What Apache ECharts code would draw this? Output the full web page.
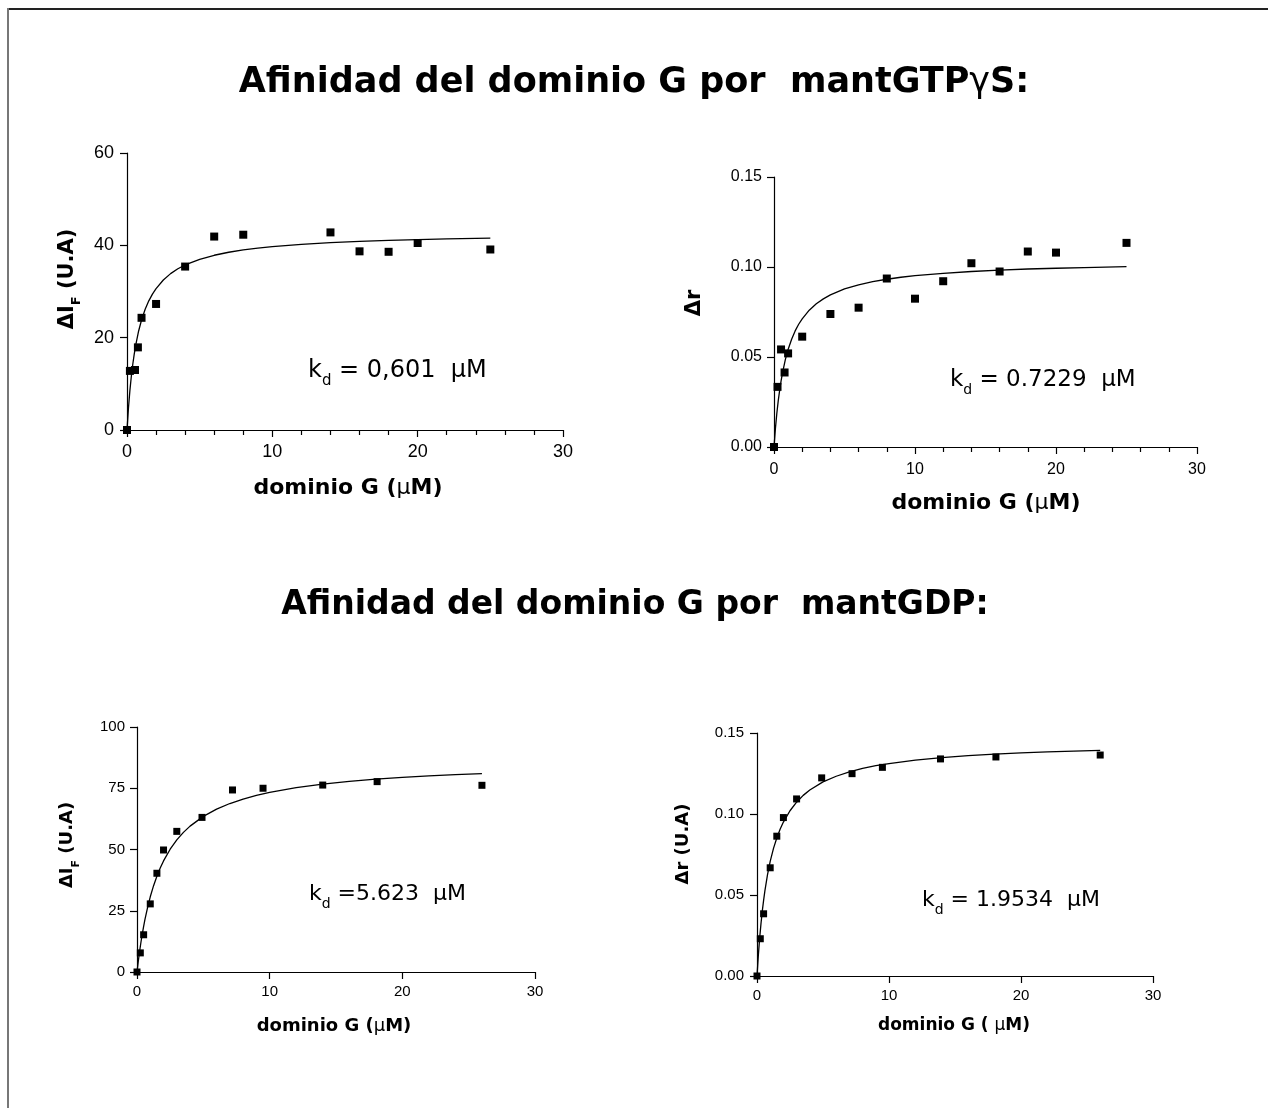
<!DOCTYPE html>
<html><head><meta charset="utf-8">
<script src="https://cdn.jsdelivr.net/npm/echarts@6/dist/echarts.min.js"></script>
<style>html,body{margin:0;padding:0;background:#fff}#c{width:1268px;height:1108px}</style>
</head><body><div id="c"></div><script>
// ---- data ----
const xTicks = [0, 10, 20, 30];
// Panel 1: ΔIF vs dominio G (mantGTPγS)
const p1X = [0, 0.2, 0.55, 0.75, 1, 2, 4, 6, 8, 14, 16, 18, 20, 25];
const p1Y = [0, 12.8, 13.0, 17.9, 24.3, 27.3, 35.4, 41.9, 42.3, 42.8, 38.7, 38.6, 40.5, 39.1];
const p1FitX = [0, 0.1, 0.2, 0.3, 0.4, 0.5, 0.6, 0.8, 1, 1.25, 1.5, 1.75, 2, 2.5, 3, 3.5, 4, 5, 6, 7, 8, 9, 10, 12, 14, 16, 18, 20, 22, 25];
const p1FitY = [0, 4.77, 8.58, 11.70, 14.30, 16.50, 18.39, 21.45, 23.83, 26.16, 27.98, 29.44, 30.64, 32.50, 33.87, 34.92, 35.75, 36.98, 37.85, 38.50, 39.00, 39.40, 39.72, 40.22, 40.58, 40.86, 41.07, 41.25, 41.39, 41.57];
const p1YTicks = [0, 20, 40, 60];
// Panel 2: Δr vs dominio G (mantGTPγS)
const p2X = [0, 0.25, 0.5, 0.75, 1, 2, 4, 6, 8, 10, 12, 14, 16, 18, 20, 25];
const p2Y = [0, 0.0334, 0.0542, 0.0414, 0.052, 0.0613, 0.0739, 0.0774, 0.0936, 0.0824, 0.0921, 0.1021, 0.0975, 0.1086, 0.108, 0.1134];
const p2FitX = [0, 0.1, 0.2, 0.3, 0.4, 0.5, 0.6, 0.8, 1, 1.25, 1.5, 1.75, 2, 2.5, 3, 3.5, 4, 5, 6, 7, 8, 9, 10, 12, 14, 16, 18, 20, 22, 25];
const p2FitY = [0, 0.0102, 0.0186, 0.0256, 0.0315, 0.0366, 0.0411, 0.0484, 0.0542, 0.0599, 0.0645, 0.0682, 0.0712, 0.0760, 0.0796, 0.0823, 0.0845, 0.0878, 0.0901, 0.0919, 0.0932, 0.0943, 0.0952, 0.0965, 0.0975, 0.0983, 0.0989, 0.0993, 0.0997, 0.1002];
const p2YTicks = [0, 0.05, 0.10, 0.15];
// Panel 3: ΔIF vs dominio G (mantGDP)
const p3X = [0, 0.25, 0.5, 1, 1.5, 2, 3, 4.9, 7.2, 9.5, 14, 18.1, 26];
const p3Y = [0, 7.8, 15.2, 27.8, 40.3, 49.8, 57.4, 63.1, 74.3, 75.0, 76.3, 77.7, 76.2];
const p3FitX = [0, 0.1, 0.2, 0.3, 0.4, 0.5, 0.6, 0.8, 1, 1.25, 1.5, 1.75, 2, 2.5, 3, 3.5, 4, 5, 6, 7, 8, 9, 10, 12, 14, 16, 18, 20, 22, 24, 26];
const p3FitY = [0, 4.50, 8.56, 12.24, 15.59, 18.65, 21.45, 26.42, 30.69, 35.24, 39.11, 42.44, 45.33, 50.12, 53.91, 56.99, 59.54, 63.52, 66.48, 68.77, 70.60, 72.08, 73.32, 75.26, 76.70, 77.82, 78.72, 79.45, 80.06, 80.57, 81.01];
const p3YTicks = [0, 25, 50, 75, 100];
// Panel 4: Δr vs dominio G (mantGDP)
const p4X = [0, 0.25, 0.5, 1, 1.5, 2, 3, 4.9, 7.2, 9.5, 13.9, 18.1, 26];
const p4Y = [0, 0.023, 0.0384, 0.0668, 0.0863, 0.0978, 0.1093, 0.1223, 0.1249, 0.1288, 0.134, 0.1352, 0.1364];
const p4FitX = [0, 0.1, 0.2, 0.3, 0.4, 0.5, 0.6, 0.8, 1, 1.25, 1.5, 1.75, 2, 2.5, 3, 3.5, 4, 5, 6, 7, 8, 9, 10, 12, 14, 16, 18, 20, 22, 24, 26];
const p4FitY = [0, 0.0126, 0.0232, 0.0322, 0.0400, 0.0467, 0.0527, 0.0627, 0.0707, 0.0788, 0.0852, 0.0906, 0.0950, 0.1020, 0.1073, 0.1115, 0.1148, 0.1198, 0.1233, 0.1260, 0.1281, 0.1298, 0.1311, 0.1332, 0.1348, 0.1360, 0.1369, 0.1377, 0.1383, 0.1388, 0.1393];
const p4YTicks = [0, 0.05, 0.10, 0.15];

const kdTexts = ['0,601', '0.7229', '5.623', '1.9534'];
const titles = ['Afinidad del dominio G por  mantGTP', 'Afinidad del dominio G por  mantGDP:'];

// ---- layout ----
const FF = '"DejaVu Sans", sans-serif';
const TF = '"Liberation Sans", Arial, sans-serif';
const panels = [
  {x: p1X, y: p1Y, fx: p1FitX, fy: p1FitY, yt: p1YTicks, grid: {left: 127, top: 153, width: 436, height: 277}, fs: 18, ym: 13, xm: 13, minor: true, dec: 0, sym: 8},
  {x: p2X, y: p2Y, fx: p2FitX, fy: p2FitY, yt: p2YTicks, grid: {left: 774, top: 177, width: 423, height: 270}, fs: 16, ym: 12, xm: 15, minor: true, dec: 2, sym: 8},
  {x: p3X, y: p3Y, fx: p3FitX, fy: p3FitY, yt: p3YTicks, grid: {left: 137, top: 727, width: 398, height: 245}, fs: 15, ym: 12, xm: 12, minor: false, dec: 0, sym: 7},
  {x: p4X, y: p4Y, fx: p4FitX, fy: p4FitY, yt: p4YTicks, grid: {left: 757, top: 733, width: 396, height: 243}, fs: 15, ym: 13, xm: 12, minor: false, dec: 2, sym: 7}
];

const grid = [], xAxis = [], yAxis = [], series = [];
panels.forEach((p, i) => {
  grid.push(Object.assign({containLabel: false, outerBoundsMode: 'none'}, p.grid));
  const step = p.yt[1] - p.yt[0];
  xAxis.push({
    type: 'value', gridIndex: i, min: xTicks[0], max: xTicks[xTicks.length - 1], interval: xTicks[1] - xTicks[0],
    axisLine: {show: true, onZero: false, lineStyle: {color: '#000', width: 1.2}},
    axisTick: {show: true, length: 7, lineStyle: {color: '#000', width: 1.2}},
    minorTick: {show: p.minor, splitNumber: 5, length: 5, lineStyle: {color: '#000', width: 1.2}},
    splitLine: {show: false}, minorSplitLine: {show: false},
    axisLabel: {color: '#000', fontSize: p.fs, fontFamily: TF, margin: p.xm, showMinLabel: true, showMaxLabel: true}
  });
  yAxis.push({
    type: 'value', gridIndex: i, min: p.yt[0], max: p.yt[p.yt.length - 1], interval: step,
    axisLine: {show: true, onZero: false, lineStyle: {color: '#000', width: 1.2}},
    axisTick: {show: true, length: 7, lineStyle: {color: '#000', width: 1.2}},
    splitLine: {show: false},
    axisLabel: {color: '#000', fontSize: p.fs, fontFamily: TF, margin: p.ym, showMinLabel: true, showMaxLabel: true,
      formatter: v => v.toFixed(p.dec)}
  });
  series.push({
    type: 'line', xAxisIndex: i, yAxisIndex: i, data: p.fx.map((v, k) => [v, p.fy[k]]),
    showSymbol: false, smooth: false, lineStyle: {color: '#000', width: 1.3}, silent: true, z: 2
  });
  series.push({
    type: 'scatter', xAxisIndex: i, yAxisIndex: i, data: p.x.map((v, k) => [v, p.y[k]]),
    symbol: 'rect', symbolSize: p.sym, itemStyle: {color: '#000', opacity: 1}, z: 3
  });
});

function txt(x, y, text, rich, rot) {
  return {type: 'text', x: x, y: y, rotation: rot || 0,
    style: {text: text, rich: rich, fill: '#000', align: 'center', verticalAlign: 'middle'}};
}
function txtL(x, y, text, rich) {
  return {type: 'text', x: x, y: y,
    style: {text: text, rich: rich, fill: '#000', align: 'left', verticalAlign: 'middle'}};
}
function titleRich(fs) {
  return {a: {fontSize: fs, fontWeight: 'bold', fontFamily: FF, color: '#000'},
          g: {fontSize: fs, fontWeight: 'normal', fontFamily: FF, color: '#000'}};
}
function xnRich(fs) {
  return {a: {fontSize: fs, fontWeight: 'bold', fontFamily: FF, color: '#000'},
          m: {fontSize: fs, fontWeight: 'normal', fontFamily: FF, color: '#000'}};
}
function subRich(fs, bold) {
  const w = bold ? 'bold' : 'normal';
  return {a: {fontSize: fs, fontWeight: w, fontFamily: FF, color: '#000', lineHeight: Math.round(fs * 1.25), verticalAlign: 'top'},
          s: {fontSize: Math.round(fs * 0.62), fontWeight: w, fontFamily: FF, color: '#000', lineHeight: Math.round(fs * 0.62), verticalAlign: 'bottom'},
          m: {fontSize: fs, fontWeight: 'normal', fontFamily: FF, color: '#000', lineHeight: Math.round(fs * 1.25), verticalAlign: 'top'}};
}

const graphic = [
  {type: 'line', shape: {x1: 7, y1: 9, x2: 1268, y2: 9}, style: {stroke: '#222', lineWidth: 2}},
  {type: 'line', shape: {x1: 8, y1: 8, x2: 8, y2: 1108}, style: {stroke: '#777', lineWidth: 2}},
  txt(634, 83, '{a|' + titles[0] + '}{g|γ}{a|S:}', titleRich(35)),
  txt(635, 605, '{a|' + titles[1] + '}', titleRich(33)),
  // y names
  txt(70, 279, '{a|ΔI}{s|F}{a| (U.A)}', subRich(21, true), Math.PI / 2),
  txt(697, 303, '{a|Δr}', subRich(21, true), Math.PI / 2),
  txt(70, 845, '{a|ΔI}{s|F}{a| (U.A)}', subRich(18, true), Math.PI / 2),
  txt(686, 844, '{a|Δr (U.A)}', subRich(18, true), Math.PI / 2),
  // x names
  txt(348, 488, '{a|dominio G (}{m|μ}{a|M)}', xnRich(22)),
  txt(986, 503, '{a|dominio G (}{m|μ}{a|M)}', xnRich(22)),
  txt(334, 1026, '{a|dominio G (}{m|μ}{a|M)}', xnRich(18)),
  txt(954, 1026, '{a|dominio G ( }{m|μ}{a|M)}', xnRich(17)),
  // kd annotations
  txtL(308, 374, '{a|k}{s|d}{a| = ' + kdTexts[0] + '  }{m|μ}{a|M}', subRich(24, false)),
  txtL(950, 383, '{a|k}{s|d}{a| = ' + kdTexts[1] + '  }{m|μ}{a|M}', subRich(23, false)),
  txtL(309, 897, '{a|k}{s|d}{a| =' + kdTexts[2] + '  }{m|μ}{a|M}', subRich(22, false)),
  txtL(922, 903, '{a|k}{s|d}{a| = ' + kdTexts[3] + '  }{m|μ}{a|M}', subRich(22, false))
];

const chart = echarts.init(document.getElementById('c'), null, {renderer: 'canvas'});
chart.setOption({
  animation: false, backgroundColor: '#fff',
  grid: grid, xAxis: xAxis, yAxis: yAxis, series: series, graphic: graphic
});
</script></body></html>
